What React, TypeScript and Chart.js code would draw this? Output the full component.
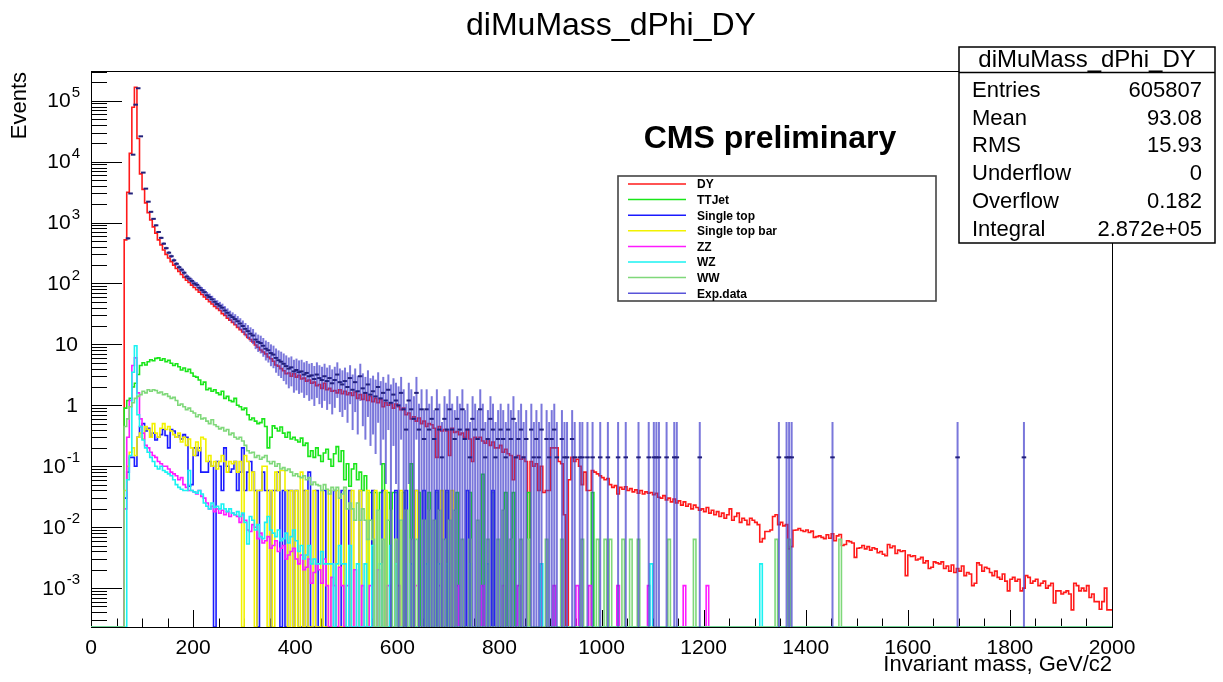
import React, { useEffect, useRef } from 'react';
import { Chart, registerables } from 'chart.js';
Chart.register(...registerables);

const FONT = '"Liberation Sans", Arial, Helvetica, sans-serif';
const W = 1223;
const H = 682;
const BIN = 5;
const X_MIN = 0;
const X_MAX = 2000;
const Y_MIN = 2.3e-4;
const Y_MAX = 3.07e5;

const titleText = 'diMuMass_dPhi_DY';
const xTitle = 'Invariant mass, GeV/c2';
const yTitle = 'Events';
const xTickLabels = [0, 200, 400, 600, 800, 1000, 1200, 1400, 1600, 1800, 2000];
const yTickExponents = [-3, -2, -1, 0, 1, 2, 3, 4, 5];
const statsLabels = ['Entries', 'Mean', 'RMS', 'Underflow', 'Overflow', 'Integral'];
const statsValues = ['605807', '93.08', '15.93', '0', '0.182', '2.872e+05'];
const legendNames = ['DY', 'TTJet', 'Single top', 'Single top bar', 'ZZ', 'WZ', 'WW', 'Exp.data'];

type Pair = [number, number];

// ---- DY (bins of 5 GeV, first bin starts at 70 GeV)
const dyStart = 70;
const dyValues = [
  520, 3150, 13700, 78000, 166000, 24000, 6300, 3500, 2100, 1450, 1100, 850, 670, 520, 430, 355,
  300, 262, 228, 200, 176, 158, 140, 126, 113, 104,
  94, 86, 79, 72, 66, 60, 55, 50, 46, 42, 39, 36, 32, 30, 27, 25, 23, 21, 19, 17.5,
  16, 14.5, 13, 12, 11, 9.8, 9.0, 8.1, 7.5, 7.0, 6.2, 5.8, 5.3, 4.6, 4.4, 4.0, 3.7, 3.3, 3.4, 3.0,
  3.3, 2.9, 3.1, 2.7, 2.8, 2.5, 2.6, 2.3, 2.4, 2.1, 2.2, 1.9, 2.3, 1.8, 1.9, 1.7, 1.75, 1.6, 1.8, 1.55,
  1.7, 1.5, 1.6, 1.45, 1.65, 1.3, 1.5, 1.25, 1.6, 1.2, 1.4, 1.15, 1.3, 1.1, 1.25, 0.95, 1.1, 1.0, 1.05, 0.9,
  1.05, 0.95, 0.85, 0.9, 0.7, 0.75, 0.6, 0.65, 0.55, 0.62, 0.5, 0.55, 0.45, 0.5, 0.48, 0.42, 0.14, 0.45, 0.38, 0.4,
  0.38, 0.15, 0.42, 0.36, 0.37, 0.33, 0.35, 0.3, 0.4, 0.28, 0.12, 0.3, 0.28, 0.3, 0.26, 0.24, 0.28, 0.22, 0.25, 0.2,
  0.2, 0.22, 0.17, 0.19, 0.16, 0.15, 0.06, 0.14, 0.15, 0.13, 0.14, 0.12, 0, 0.12, 0.1, 0.11, 0.04, 0.1, 0.037, 0.04,
  0.04, 0.2, 0.2, 0.2, 0.12, 0.11, 0.016, 0, 0.06, 0.14, 0.12, 0.13, 0.1, 0.05, 0.08, 0.04, 0.04, 0.085, 0.08, 0.075,
  0.07, 0.065, 0.06, 0.063, 0.05, 0.045, 0.048, 0.035, 0.045, 0.042, 0.046, 0.04, 0.043, 0.038, 0.041, 0.036, 0.04, 0.035, 0.038, 0.036,
  0.037, 0.034, 0.036, 0.031, 0.03, 0.033, 0.028, 0.03, 0.026, 0.029, 0.025, 0.027, 0.023, 0.026, 0.022, 0.024, 0.02, 0.023, 0.021, 0.019,
  0.02, 0.018, 0.021, 0.017, 0.019, 0.016, 0.018, 0.015, 0.017, 0.014, 0.016, 0.02, 0.013, 0.015, 0.017, 0.012, 0.014, 0.013, 0.011, 0.014,
  0.013, 0.012, 0.011, 0.0057, 0.0065, 0.0085, 0.0085, 0.009, 0.015, 0.016, 0.011, 0.012, 0.0105, 0.011, 0.0044, 0.0048, 0.0089, 0.009, 0.0095, 0.0088,
  0.0085, 0.009, 0.0082, 0.0086, 0.0068, 0.007, 0.0072, 0.0068, 0.0065, 0.0075, 0.0066, 0.0078, 0.006, 0.0072, 0.0076, 0.005, 0.0052, 0.006, 0.0058, 0.0055,
  0.0032, 0.0045, 0.0046, 0.005, 0.0044, 0.0048, 0.0042, 0.0046, 0.0044, 0.0038, 0.004, 0.0036, 0.0034, 0.0052, 0.0046, 0.0049, 0.0037, 0.0042, 0.004, 0.0041,
  0.0016, 0.0035, 0.0033, 0.0034, 0.0029, 0.003, 0.0032, 0.0026, 0.0028, 0.0021, 0.0022, 0.0027, 0.0026, 0.0025, 0.0027, 0.0021, 0.0023, 0.0019, 0.0024, 0.0018,
  0.0021, 0.0019, 0.0023, 0.0016, 0.0018, 0.0017, 0.0011, 0.0012, 0.0026, 0.0024, 0.0019, 0.0022, 0.0021, 0.0018, 0.0016, 0.0019, 0.0015, 0.0014, 0.0017, 0.0013,
  0.0009, 0.0014, 0.0015, 0.0013, 0.0014, 0.0009, 0.001, 0.0016, 0.0015, 0.0012, 0.0013, 0.0014, 0.0011, 0.0012, 0.0013, 0.001, 0.0011, 0.0012, 0.00057, 0.0009,
  0.0009, 0.0008, 0.00085, 0.0009, 0.0008, 0.00044, 0.0012, 0.0011, 0.0009, 0.001, 0.0009, 0.0011, 0.0007, 0.0008, 0.0006, 0.0006, 0.00045, 0.0006, 0.001, 0.00044,
];

// ---- TTJet
const ttStart = 70;
const ttValues = [
  0.9, 1.2, 1.3, 2.0, 2.3, 3.2, 4.5, 5.0, 4.6, 5.2, 5.6, 5.4, 5.9, 6.0, 5.5, 5.8,
  5.2, 5.5, 4.9, 4.5, 4.8, 4.3, 3.8, 4.1, 3.6, 3.9,
  3.4, 3.0, 2.9, 2.6, 2.2, 2.4, 1.8, 1.9, 1.7, 1.8, 1.6, 1.5, 1.7, 1.3, 1.4, 1.2, 1.15, 1.3, 1.0, 0.95,
  0.85, 0.9, 0.7, 0.58, 0.62, 0.55, 0.5, 0.52, 0.6, 0.45, 0.2, 0.3, 0.46, 0.42, 0.38, 0.44, 0.35, 0.3, 0.36, 0.28,
  0.3, 0.27, 0.25, 0.29, 0.22, 0.24, 0.145, 0.18, 0.14, 0.2, 0.15, 0.12, 0.165, 0.19, 0.13, 0.1, 0.16, 0.21, 0.12, 0.18,
  0.06, 0.11, 0.047, 0.09, 0.11, 0.06, 0.08, 0.04, 0.07, 0, 0.037, 0, 0.037, 0, 0.037, 0.11, 0, 0.037, 0, 0.037,
];
const ttTail: Pair[] = [
  [600, 0.037], [615, 0.037], [630, 0.11], [645, 0.037], [665, 0.037], [680, 0.037], [700, 0.037],
  [720, 0.037], [745, 0.037], [770, 0.074], [790, 0.037], [815, 0.037], [830, 0.037], [860, 0.037], [985, 0.037],
];

// ---- Single top
const stStart = 70;
const stValues = [
  0.03, 0.08, 0.14, 0.14, 0.1, 0.3, 0.45, 0.5, 0.38, 0.42, 0.3, 0.35, 0.27, 0.3, 0.33, 0.4,
  0.32, 0.2, 0.4, 0.38, 0.3, 0.32, 0.28, 0.33, 0.3, 0.047,
  0.05, 0.2, 0.15, 0.2, 0.08, 0.08, 0.08, 0.12, 0.1, 0, 0.12, 0.1, 0.04, 0.2, 0.1, 0.08, 0.09, 0.12, 0.04, 0.08,
  0.2, 0.04, 0.08, 0.12, 0.08, 0.04, 0, 0.04, 0.08, 0.04, 0.04, 0, 0.04, 0.04, 0.08, 0, 0.04, 0, 0.04, 0.04,
];
const stTail: Pair[] = [
  [405, 0.04], [420, 0.04], [430, 0.08], [445, 0.04], [460, 0.04], [480, 0.04], [495, 0.04], [510, 0.04],
  [530, 0.04], [555, 0.04], [575, 0.04], [600, 0.04], [620, 0.04], [640, 0.04], [655, 0.04], [680, 0.04],
  [700, 0.04], [740, 0.04], [790, 0.04],
];

// ---- Single top bar
const stbStart = 70;
const stbValues = [
  0.04, 0.1, 0.17, 0.2, 0.15, 0.3, 0.35, 0.28, 0.45, 0.4, 0.3, 0.5, 0.35, 0.3, 0.42, 0.5,
  0.4, 0.45, 0.38, 0.33, 0.3, 0.35, 0.25, 0.3, 0.22, 0.28,
  0.2, 0.15, 0.25, 0.18, 0.3, 0.28, 0.12, 0.15, 0.1, 0.12, 0.09, 0.12, 0.15, 0.12, 0.08, 0.12, 0.11, 0.12, 0.08, 0.12,
  0, 0.15, 0.12, 0.04, 0.08, 0, 0.04, 0.04, 0.1, 0.1, 0, 0.04, 0, 0.08, 0.04, 0.085, 0.085, 0.04, 0, 0.04,
];
const stbTail: Pair[] = [
  [405, 0.04], [415, 0.08], [425, 0.04], [440, 0.04], [455, 0.04], [470, 0.04], [485, 0.04], [500, 0.04],
  [515, 0.04], [530, 0.04], [545, 0.04], [560, 0.04], [580, 0.04], [610, 0.04], [640, 0.04], [690, 0.04], [710, 0.04],
];

// ---- ZZ
const zzStart = 70;
const zzValues = [
  0.02, 0.3, 1.2, 4.5, 6.0, 1.6, 0.6, 0.35, 0.22, 0.2, 0.17, 0.15, 0.14, 0.12, 0.11, 0.1,
  0.1, 0.09, 0.08, 0.075, 0.07, 0.06, 0.065, 0.05, 0.045, 0.04,
  0.04, 0.038, 0.035, 0.04, 0.032, 0.03, 0.025, 0.02, 0.022, 0.018, 0.02, 0.017, 0.019, 0.016, 0.018, 0.015, 0.017, 0.016, 0.015, 0.012,
  0.016, 0.013, 0.009, 0.0085, 0.011, 0.01, 0.0065, 0.008, 0.0055, 0.006, 0.007, 0.0045, 0.005, 0.006, 0.004, 0.0045, 0.005, 0.003, 0.0035, 0.004,
  0.0045, 0.003, 0.0025, 0.0035, 0.002, 0.0022, 0.003, 0.0012, 0.0018, 0.0025, 0.002, 0.0012, 0.003, 0.0011, 0, 0.0015, 0.0011, 0, 0.0022, 0.0011,
];
const zzTail: Pair[] = [
  [505, 0.0011], [520, 0.002], [535, 0.0011], [550, 0.0011], [565, 0.002], [585, 0.0011], [605, 0.0011],
  [640, 0.0011], [685, 0.0011], [720, 0.0011], [770, 0.0011], [810, 0.0011], [840, 0.0011], [910, 0.0011],
  [955, 0.0011], [980, 0.0011], [1035, 0.0011], [1095, 0.0011], [1165, 0.0011], [1210, 0.0011],
];

// ---- WZ
const wzStart = 70;
const wzValues = [
  0, 0.06, 0.15, 3.5, 9.5, 0.7, 0.45, 0.27, 0.2, 0.17, 0.14, 0.12, 0.1, 0.09, 0.1, 0.085,
  0.08, 0.075, 0.07, 0.06, 0.05, 0.045, 0.042, 0.04, 0.04, 0.085,
  0.04, 0.038, 0.036, 0.04, 0.035, 0.025, 0.022, 0.02, 0.025, 0.021, 0.022, 0.02, 0.024, 0.02, 0.018, 0.02, 0.017, 0.016, 0.018, 0.015,
  0.017, 0.012, 0.0053, 0.015, 0.013, 0.009, 0.011, 0.007, 0.0065, 0.012, 0.015, 0.009, 0.008, 0.007, 0.009, 0.006, 0.0065, 0.008, 0.0055, 0.007,
  0.009, 0.006, 0.004, 0.005, 0.003, 0.0035, 0.005, 0.0025, 0.003, 0.0025, 0.0025, 0.004, 0.0025, 0.0025, 0.0025, 0.0025, 0, 0.0025, 0.005, 0.0025,
];
const wzTail: Pair[] = [
  [500, 0.0025], [510, 0.005], [525, 0.0025], [540, 0.0025], [555, 0.005], [570, 0.0025], [590, 0.005],
  [600, 0.0025], [630, 0.0025], [660, 0.0025], [685, 0.0025], [700, 0.0025], [745, 0.0025], [780, 0.0025],
  [885, 0.0025], [1100, 0.0025], [1315, 0.0025],
];

// ---- WW
const wwStart = 70;
const wwValues = [
  0.45, 0.6, 0.95, 1.1, 1.3, 1.4, 1.5, 1.7, 1.6, 1.8, 1.7, 1.8, 1.75, 1.6, 1.65, 1.5,
  1.55, 1.4, 1.3, 1.35, 1.2, 1.0, 1.05, 0.95, 0.85, 0.9,
  0.8, 0.75, 0.65, 0.7, 0.6, 0.62, 0.55, 0.5, 0.58, 0.48, 0.45, 0.41, 0.43, 0.38, 0.4, 0.33, 0.35, 0.3, 0.28, 0.3,
  0.26, 0.22, 0.18, 0.165, 0.17, 0.14, 0.15, 0.13, 0.14, 0.15, 0.12, 0.11, 0.12, 0.1, 0.11, 0.09, 0.095, 0.085, 0.09, 0.08,
  0.07, 0.075, 0.068, 0.065, 0.07, 0.06, 0.065, 0.05, 0.055, 0.05, 0.048, 0.04, 0.05, 0.042, 0.035, 0.045, 0.04, 0.045, 0.03, 0.035,
  0.045, 0.02, 0.025, 0.02, 0.013, 0.025, 0.013, 0.02, 0.013, 0.0063,
];
const wwTail: Pair[] = [
  [550, 0.013], [555, 0.0063], [565, 0.019], [575, 0.0063], [585, 0.013], [590, 0.019], [600, 0.0063],
  [610, 0.013], [620, 0.019], [630, 0.0063], [640, 0.0063], [655, 0.013], [665, 0.019], [675, 0.013],
  [685, 0.019], [695, 0.0063], [705, 0.013], [715, 0.019], [730, 0.0063], [745, 0.0063], [760, 0.013],
  [780, 0.0063], [800, 0.0063], [810, 0.019], [825, 0.0063], [845, 0.0063], [860, 0.0063], [895, 0.0063],
  [925, 0.0063], [965, 0.0063], [995, 0.0063], [1010, 0.0063], [1020, 0.0063], [1045, 0.0063], [1060, 0.0063],
  [1075, 0.0063], [1135, 0.0063], [1185, 0.0063], [1345, 0.0063], [1370, 0.0063], [1470, 0.0063],
];

// ---- Exp. data
const dataStart = 70;
const dataValues = [
  550, 3000, 13000, 86000, 160000, 26000, 6600, 3600, 2200, 1500, 1150, 900, 700, 560, 450, 380,
  320, 280, 240, 210, 185, 168, 150, 130, 120, 110,
  100, 95, 85, 78, 72, 64, 60, 55, 50, 46, 43, 40, 36, 33, 30, 28, 26, 24, 22, 20,
  18, 16.5, 15, 14, 12, 11, 10.5, 9.5, 8.5, 8, 7.2, 6.8, 6, 5.5, 5.2, 4.8, 4.4, 4.0, 4.2, 3.6,
  3.8, 3.5, 3.6, 3.2, 3.4, 3.0, 3.1, 2.7, 3.2, 2.8, 2.6, 3.0, 2.5, 2.8, 2.3, 2.6, 3.2, 2.4, 2.2, 2.5,
  2.0, 2.8, 1.8, 2.4, 1.7, 3.0, 1.9, 1.6, 2.2, 1.5, 1.7, 1.4, 2.0, 1.3, 1.6, 1.2, 1.8, 1.1, 1.5, 1.2,
  1.0, 1.6, 0.86, 0.4, 1.2, 0.86, 0.6, 1.6, 0.4, 0.86, 0.28, 0.86, 0.4, 0.6, 0.28, 0.86, 0.4, 0.14, 0.6, 0.4,
  0.86, 0.4, 0.28, 0.6, 0.4, 0.86, 0.28, 0.4, 0.14, 0.6, 0.4, 0.28, 0.86, 0.4, 0.14, 0.28, 0.6, 0.4, 0.14, 0.28,
  0.4, 0.28, 0.14, 0.4, 0.28, 0.6, 0.14, 0.28, 0.4, 0.14, 0.28, 0, 0.4, 0.14, 0.28, 0.14, 0.4, 0, 0.28, 0.14,
  0.28, 0.4, 0.14, 0, 0.28, 0.14, 0.14, 0, 0.28, 0.14, 0, 0.14, 0.14, 0, 0.14, 0, 0.14, 0, 0, 0.14,
];
const dataTail: Pair[] = [
  [1010, 0.14], [1030, 0.14], [1045, 0.14], [1070, 0.14], [1090, 0.14], [1100, 0.14], [1105, 0.14],
  [1110, 0.14], [1125, 0.14], [1140, 0.14], [1145, 0.14], [1190, 0.14], [1345, 0.14], [1360, 0.14],
  [1365, 0.14], [1370, 0.14], [1450, 0.14], [1695, 0.14], [1825, 0.14],
];
const dataErrScale = 1.1;

const colors = {
  dy: '#ff1a1a',
  tt: '#19e619',
  st: '#1a1aff',
  stb: '#f2f200',
  zz: '#ff1aff',
  wz: '#1af2f2',
  ww: '#7fd87a',
  data: 'rgb(89,84,217)',
};
const legendColors = [colors.dy, colors.tt, colors.st, colors.stb, colors.zz, colors.wz, colors.ww, colors.data];

function fillBins(start: number, dense: number[], tail: Pair[] = []): number[] {
  const n = Math.round((X_MAX - X_MIN) / BIN);
  const arr: number[] = new Array(n).fill(0);
  const s = Math.round((start - X_MIN) / BIN);
  dense.forEach((v, i) => {
    if (s + i < n) arr[s + i] = v;
  });
  tail.forEach(([x, v]) => {
    const i = Math.round((x - X_MIN) / BIN);
    if (i >= 0 && i < n) arr[i] = v;
  });
  return arr;
}

function stepPoints(arr: number[]) {
  const pts = arr.map((v, i) => ({ x: X_MIN + i * BIN, y: v > 0 ? v : Y_MIN }));
  pts.push({ x: X_MAX, y: pts[pts.length - 1].y });
  return pts;
}

function drawPow(ctx: CanvasRenderingContext2D, exp: number, right: number, yc: number) {
  ctx.textBaseline = 'middle';
  ctx.fillStyle = '#000';
  if (exp === 0 || exp === 1) {
    ctx.font = `21px ${FONT}`;
    ctx.textAlign = 'right';
    ctx.fillText(exp === 0 ? '1' : '10', right - 2, yc + 1);
    return;
  }
  const es = String(exp);
  ctx.font = `15px ${FONT}`;
  const we = ctx.measureText(es).width;
  ctx.textAlign = 'right';
  ctx.fillText(es, right, yc - 8);
  ctx.font = `21px ${FONT}`;
  ctx.fillText('10', right - we - 1, yc + 1);
}

export default function App() {
  const ref = useRef<HTMLCanvasElement | null>(null);

  useEffect(() => {
    const canvas = ref.current;
    if (!canvas) return;

    const dyBins = fillBins(dyStart, dyValues);
    const ttBins = fillBins(ttStart, ttValues, ttTail);
    const stBins = fillBins(stStart, stValues, stTail);
    const stbBins = fillBins(stbStart, stbValues, stbTail);
    const zzBins = fillBins(zzStart, zzValues, zzTail);
    const wzBins = fillBins(wzStart, wzValues, wzTail);
    const wwBins = fillBins(wwStart, wwValues, wwTail);
    const dataBins = fillBins(dataStart, dataValues, dataTail);

    const mk = (label: string, bins: number[], color: string, order: number) => ({
      label,
      data: stepPoints(bins),
      borderColor: color,
      backgroundColor: color,
      borderWidth: 1.6,
      pointRadius: 0,
      pointHoverRadius: 0,
      stepped: 'after' as const,
      fill: false,
      tension: 0,
      order,
    });

    const rootPlugin = {
      id: 'rootStyle',
      beforeDatasetsDraw(chart: any) {
        const { ctx, chartArea: a, scales } = chart;
        const x = scales.x;
        const y = scales.y;
        ctx.save();
        ctx.fillStyle = '#fff';
        ctx.fillRect(0, 0, W, H);
        ctx.strokeStyle = '#000';
        ctx.lineWidth = 1;
        ctx.strokeRect(Math.round(a.left) + 0.5, Math.round(a.top) + 0.5, Math.round(a.right - a.left), Math.round(a.bottom - a.top));
        for (let k = -4; k <= 5; k++) {
          for (let m = 1; m <= 9; m++) {
            const v = m * Math.pow(10, k);
            if (v < Y_MIN || v > Y_MAX) continue;
            const py = Math.round(y.getPixelForValue(v)) + 0.5;
            const len = m === 1 ? 31 : 16;
            ctx.beginPath();
            ctx.moveTo(a.left, py);
            ctx.lineTo(a.left + len, py);
            ctx.stroke();
          }
        }
        for (let v = X_MIN; v <= X_MAX; v += 50) {
          const px = Math.round(x.getPixelForValue(v)) + 0.5;
          const len = v % 200 === 0 ? 17 : 8.5;
          ctx.beginPath();
          ctx.moveTo(px, a.bottom);
          ctx.lineTo(px, a.bottom - len);
          ctx.stroke();
        }
        ctx.restore();
      },
      afterDatasetsDraw(chart: any) {
        const { ctx, chartArea: a, scales } = chart;
        const x = scales.x;
        const y = scales.y;
        ctx.save();
        ctx.beginPath();
        ctx.rect(a.left, a.top, a.right - a.left, a.bottom - a.top + 1);
        ctx.clip();
        dataBins.forEach((v, i) => {
          if (!(v > 0)) return;
          const lo = X_MIN + i * BIN;
          const x0 = x.getPixelForValue(lo);
          const x1 = x.getPixelForValue(lo + BIN);
          const xc = (x0 + x1) / 2;
          const e = Math.sqrt(dataErrScale * v);
          const yTop = y.getPixelForValue(v + e);
          const yBot = v - e > Y_MIN ? y.getPixelForValue(v - e) : a.bottom;
          const yv = y.getPixelForValue(v);
          ctx.strokeStyle = 'rgba(70,66,205,0.72)';
          ctx.lineWidth = 2;
          ctx.beginPath();
          ctx.moveTo(xc, yTop);
          ctx.lineTo(xc, yBot);
          ctx.stroke();
          ctx.strokeStyle = '#22207a';
          ctx.lineWidth = 2;
          ctx.beginPath();
          ctx.moveTo(x0 - 1, yv);
          ctx.lineTo(x1 + 1, yv);
          ctx.stroke();
        });
        ctx.restore();
      },
      afterDraw(chart: any) {
        const { ctx, chartArea: a, scales } = chart;
        const x = scales.x;
        const y = scales.y;
        ctx.save();
        ctx.fillStyle = '#000';
        ctx.font = `21px ${FONT}`;
        ctx.textAlign = 'center';
        ctx.textBaseline = 'middle';
        xTickLabels.forEach((v) => {
          ctx.fillText(String(v), x.getPixelForValue(v), 648);
        });
        yTickExponents.forEach((k) => {
          drawPow(ctx, k, 80, y.getPixelForValue(Math.pow(10, k)));
        });
        ctx.font = `22px ${FONT}`;
        ctx.textAlign = 'right';
        ctx.textBaseline = 'middle';
        ctx.fillText(xTitle, a.right, 665);
        ctx.save();
        ctx.translate(20, a.top + 1);
        ctx.rotate(-Math.PI / 2);
        ctx.textAlign = 'right';
        ctx.textBaseline = 'middle';
        ctx.fillText(yTitle, 0, 0);
        ctx.restore();
        ctx.font = `32px ${FONT}`;
        ctx.textAlign = 'center';
        ctx.fillText(titleText, 611, 26);
        ctx.font = `bold 32px ${FONT}`;
        ctx.fillText('CMS preliminary', 770, 139);

        const lg = { l: 618, t: 176, r: 936, b: 301 };
        ctx.fillStyle = '#fff';
        ctx.fillRect(lg.l, lg.t, lg.r - lg.l, lg.b - lg.t);
        ctx.strokeStyle = '#444';
        ctx.lineWidth = 1.6;
        ctx.strokeRect(lg.l, lg.t, lg.r - lg.l, lg.b - lg.t);
        ctx.font = `bold 12px ${FONT}`;
        ctx.textAlign = 'left';
        ctx.textBaseline = 'middle';
        legendNames.forEach((name, i) => {
          const yy = 184 + i * 15.6;
          ctx.strokeStyle = legendColors[i];
          ctx.lineWidth = 1.5;
          ctx.beginPath();
          ctx.moveTo(628, yy);
          ctx.lineTo(686, yy);
          ctx.stroke();
          ctx.fillStyle = '#000';
          ctx.fillText(name, 697, yy + 1);
        });

        const sb = { l: 959, t: 47, r: 1215, b: 243 };
        ctx.fillStyle = '#fff';
        ctx.fillRect(sb.l, sb.t, sb.r - sb.l, sb.b - sb.t);
        ctx.strokeStyle = '#000';
        ctx.lineWidth = 1.5;
        ctx.strokeRect(sb.l, sb.t, sb.r - sb.l, sb.b - sb.t);
        ctx.beginPath();
        ctx.moveTo(sb.l, 72.5);
        ctx.lineTo(sb.r, 72.5);
        ctx.stroke();
        ctx.fillStyle = '#000';
        ctx.font = `24px ${FONT}`;
        ctx.textAlign = 'center';
        ctx.fillText(titleText, (sb.l + sb.r) / 2, 60);
        ctx.font = `22px ${FONT}`;
        statsLabels.forEach((lab, i) => {
          const yy = 91 + i * 27.7;
          ctx.textAlign = 'left';
          ctx.fillText(lab, 972, yy);
          ctx.textAlign = 'right';
          ctx.fillText(statsValues[i], 1202, yy);
        });
        ctx.restore();
      },
    };

    const chart = new Chart(canvas, {
      type: 'line',
      data: {
        datasets: [
          mk('DY', dyBins, colors.dy, 7),
          mk('TTJet', ttBins, colors.tt, 6),
          mk('Single top', stBins, colors.st, 5),
          mk('Single top bar', stbBins, colors.stb, 4),
          mk('ZZ', zzBins, colors.zz, 3),
          mk('WZ', wzBins, colors.wz, 2),
          mk('WW', wwBins, colors.ww, 1),
        ],
      },
      options: {
        responsive: false,
        maintainAspectRatio: false,
        devicePixelRatio: 1,
        animation: false,
        layout: { padding: { left: 91, top: 71, right: W - 1112, bottom: H - 627 } },
        plugins: {
          legend: { display: false },
          tooltip: { enabled: false },
          title: { display: false },
        },
        scales: {
          x: { type: 'linear', min: X_MIN, max: X_MAX, display: false },
          y: { type: 'logarithmic', min: Y_MIN, max: Y_MAX, display: false },
        },
      },
      plugins: [rootPlugin],
    } as any);

    return () => {
      chart.destroy();
    };
  }, []);

  return (
    <div style={{ position: 'absolute', left: 0, top: 0, width: W, height: H, background: '#fff' }}>
      <canvas ref={ref} width={W} height={H} style={{ display: 'block', width: W, height: H }} />
    </div>
  );
}
